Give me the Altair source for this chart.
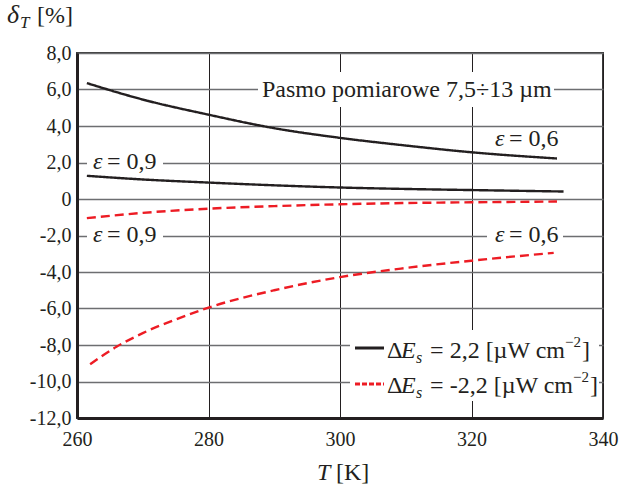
import altair as alt
import pandas as pd

# Temperature grid (K) and relative error delta_T (%) for each curve
T_pos_06 = [261.5, 270, 280, 290, 300, 310, 320, 333]
d_pos_06 = [6.35, 5.45, 4.62, 3.88, 3.35, 2.93, 2.56, 2.22]

T_pos_09 = [261.5, 270, 280, 290, 300, 310, 320, 334]
d_pos_09 = [1.27, 1.07, 0.90, 0.75, 0.63, 0.55, 0.49, 0.41]

T_neg_09 = [261.5, 270, 280, 290, 300, 310, 320, 333]
d_neg_09 = [-1.05, -0.76, -0.53, -0.39, -0.29, -0.22, -0.18, -0.14]

T_neg_06 = [262, 266, 270, 275, 280, 290, 300, 310, 320, 332.5]
d_neg_06 = [-9.05, -8.10, -7.35, -6.60, -5.95, -5.00, -4.28, -3.78, -3.38, -2.95]

x_ticks = [260, 280, 300, 320, 340]
y_ticks = [-12, -10, -8, -6, -4, -2, 0, 2, 4, 6, 8]

band_label = "Pasmo pomiarowe 7,5÷13 µm"
eps_09 = "= 0,9"
eps_06 = "= 0,6"
legend_pos = "= 2,2 [µW cm"
legend_neg = "= -2,2 [µW cm"

FONT = "Liberation Serif"
INK = "#231f20"
RED = "#ed1c24"

rows = []
for name, sign, ts, ds in [
    ("pos06", "+", T_pos_06, d_pos_06),
    ("pos09", "+", T_pos_09, d_pos_09),
    ("neg09", "-", T_neg_09, d_neg_09),
    ("neg06", "-", T_neg_06, d_neg_06),
]:
    for t, d in zip(ts, ds):
        rows.append({"T": t, "delta": d, "curve": name, "sign": sign})
curves = pd.DataFrame(rows)

W, H = 526, 365
X0, Y0 = 77, 53  # plot origin inside the page


def px(x):
    return x - X0


def py(y):
    return y - Y0


x_scale = alt.Scale(domain=[260, 340], nice=False, zero=False)
y_scale = alt.Scale(domain=[-12, 8], nice=False, zero=False)

y_label_expr = (
    "datum.value == 0 ? '0' : replace((datum.value < 0 ? '-' : '') + "
    "format(abs(datum.value), '.1f'), '.', ',')"
)

lines = (
    alt.Chart(curves)
    .mark_line(interpolate="monotone", strokeWidth=2.4)
    .encode(
        x=alt.X(
            "T:Q",
            scale=x_scale,
            axis=alt.Axis(
                values=x_ticks,
                title=None,
                grid=True,
                gridColor=INK,
                gridWidth=1,
                ticks=False,
                domainColor=INK,
                domainWidth=3,
                labelFont=FONT,
                labelFontSize=20,
                labelColor=INK,
                labelPadding=11,
                labelFlush=False,
            ),
        ),
        y=alt.Y(
            "delta:Q",
            scale=y_scale,
            axis=alt.Axis(
                values=y_ticks,
                title=None,
                grid=True,
                gridColor="#6d6e71",
                gridWidth=1.6,
                ticks=False,
                domainColor=INK,
                domainWidth=3,
                labelFont=FONT,
                labelFontSize=20,
                labelColor=INK,
                labelPadding=6,
                labelExpr=y_label_expr,
            ),
        ),
        color=alt.Color(
            "sign:N",
            scale=alt.Scale(domain=["+", "-"], range=[INK, RED]),
            legend=None,
        ),
        strokeDash=alt.StrokeDash(
            "sign:N",
            scale=alt.Scale(domain=["+", "-"], range=[[1, 0], [9, 5]]),
            legend=None,
        ),
        detail="curve:N",
    )
)

# White patches that interrupt the grid behind annotation texts and the key
patches = pd.DataFrame(
    [
        {"x1": px(258), "x2": px(554), "y1": py(72), "y2": py(107)},
        {"x1": px(87), "x2": px(163), "y1": py(151), "y2": py(172)},
        {"x1": px(87), "x2": px(163), "y1": py(226), "y2": py(247)},
        {"x1": px(487), "x2": px(563), "y1": py(226), "y2": py(247)},
        {"x1": px(350), "x2": px(599), "y1": py(330), "y2": py(401)},
    ]
)
bg = (
    alt.Chart(patches)
    .mark_rect(color="white")
    .encode(
        x=alt.X("x1:Q", scale=None),
        x2="x2:Q",
        y=alt.Y("y1:Q", scale=None),
        y2="y2:Q",
    )
)

# Text pieces: (x, baseline y, text, italic, size, align)
pieces = [
    (262, 97, band_label, False, 24, "left"),
    (93, 169, "ε", True, 24, "left"),
    (107, 169, eps_09, False, 24, "left"),
    (93, 242, "ε", True, 24, "left"),
    (107, 242, eps_09, False, 24, "left"),
    (495, 146, "ε", True, 24, "left"),
    (509, 146, eps_06, False, 24, "left"),
    (495, 242, "ε", True, 24, "left"),
    (509, 242, eps_06, False, 24, "left"),
    # key rows
    (387, 358, "Δ", False, 24, "left"),
    (401, 358, "E", True, 24, "left"),
    (416, 363, "s", True, 16, "left"),
    (565, 358, legend_pos, False, 24, "right"),
    (565, 347, "−2", False, 15, "left"),
    (582, 358, "]", False, 24, "left"),
    (387, 393, "Δ", False, 24, "left"),
    (401, 393, "E", True, 24, "left"),
    (416, 398, "s", True, 16, "left"),
    (573, 393, legend_neg, False, 24, "right"),
    (573, 382, "−2", False, 15, "left"),
    (590, 393, "]", False, 24, "left"),
    # axis titles
    (7, 23, "δ", True, 26, "left"),
    (20, 28, "T", True, 17, "left"),
    (37, 23, "[%]", False, 24, "left"),
    (317, 480, "T", True, 24, "left"),
    (336, 480, "[K]", False, 24, "left"),
]
txt = pd.DataFrame(
    [
        {"x": px(a), "y": py(b), "t": t, "it": it, "fs": fs, "al": al}
        for a, b, t, it, fs, al in pieces
    ]
)


def text_layer(italic, align):
    sub = txt[(txt["it"] == italic) & (txt["al"] == align)]
    return (
        alt.Chart(sub)
        .mark_text(
            font=FONT,
            fontStyle="italic" if italic else "normal",
            align=align,
            baseline="alphabetic",
            color=INK,
        )
        .encode(
            x=alt.X("x:Q", scale=None),
            y=alt.Y("y:Q", scale=None),
            text="t:N",
            size=alt.Size("fs:Q", scale=None),
        )
    )


text_layers = [
    text_layer(it, al)
    for it in (False, True)
    for al in ("left", "right")
    if len(txt[(txt["it"] == it) & (txt["al"] == al)])
]

# Key samples
key = pd.DataFrame(
    [
        {"x1": px(355), "x2": px(384), "y": py(348), "sign": "+"},
        {"x1": px(355), "x2": px(384), "y": py(384), "sign": "-"},
    ]
)
key_lines = (
    alt.Chart(key)
    .mark_rule(strokeWidth=3)
    .encode(
        x=alt.X("x1:Q", scale=None),
        x2="x2:Q",
        y=alt.Y("y:Q", scale=None),
        color=alt.Color(
            "sign:N",
            scale=alt.Scale(domain=["+", "-"], range=[INK, RED]),
            legend=None,
        ),
        strokeDash=alt.StrokeDash(
            "sign:N",
            scale=alt.Scale(domain=["+", "-"], range=[[1, 0], [5, 2]]),
            legend=None,
        ),
    )
)

chart = (
    alt.layer(lines, bg, key_lines, *text_layers)
    .resolve_scale(color="independent", strokeDash="independent")
    .properties(
        width=W,
        height=H,
        background="white",
        autosize=alt.AutoSizeParams(type="none"),
        padding={"left": X0, "top": Y0, "right": 621 - X0 - W, "bottom": 487 - Y0 - H},
    )
    .configure_view(stroke="#3a3a3a", strokeWidth=2)
)

chart.save("out.html", embed_options={"renderer": "svg", "actions": False})
